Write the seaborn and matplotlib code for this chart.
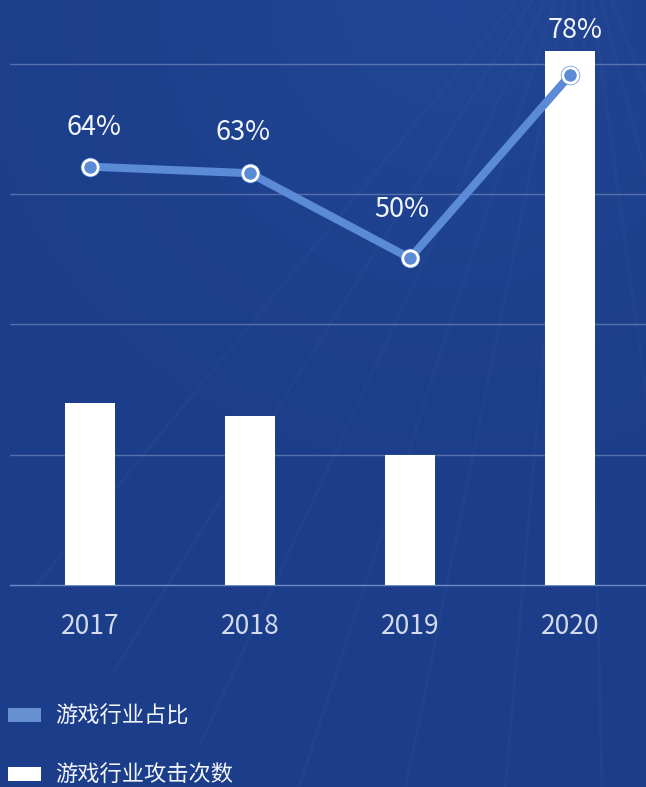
import numpy as np
import matplotlib
matplotlib.use("Agg")
import matplotlib.pyplot as plt
from matplotlib.patches import Patch
import pandas as pd
import seaborn as sns

# ---- data ----
years = ["2017", "2018", "2019", "2020"]
attack_counts = [1.4, 1.3, 1.0, 4.1]          # 游戏行业攻击次数 (relative units)
game_share = [64, 63, 50, 78]                 # 游戏行业占比 (%)
legend_labels = ["游戏行业占比", "游戏行业攻击次数"]

# label offsets (points) for the percentage annotations
label_dx = [3, -5, -6, 4]
label_dy = [28, 29, 35, 32]

# ---- style ----
BG = "#1c3e8a"
LINE = "#5b8ad6"
LEGEND_LINE = "#6690d0"
AXIS = "#6f8cc4"
TXT = "#f2f5fb"
TICK_TXT = "#d3dcec"

sns.set_theme(style="white")
plt.rcParams["font.family"] = ["Noto Sans CJK SC", "DejaVu Sans"]

W, H = 646, 787
fig = plt.figure(figsize=(W / 100, H / 100), dpi=100)
fig.patch.set_facecolor(BG)

# soft light backdrop with faint rays
bg = fig.add_axes([0, 0, 1, 1], zorder=-10)
bg.set_axis_off()
yy, xx = np.mgrid[0:1:200j, 0:1:200j]
glow = np.exp(-(((xx - 0.7) / 0.5) ** 2 + ((yy - 0.0) / 0.4) ** 2))
base = np.array(matplotlib.colors.to_rgb(BG))
light = np.array([0.15, 0.31, 0.63])
k = 0.4 * glow[..., None]
img = base[None, None, :] * (1 - k) + light[None, None, :] * k
bg.imshow(img, extent=[0, 1, 0, 1], origin="upper", aspect="auto")
bg.set_xlim(0, 1)
bg.set_ylim(0, 1)
for ang in np.linspace(225, 295, 10):
    r = np.radians(ang)
    x0, y0 = 0.9, 1.1
    bg.plot([x0, x0 + 1.2 * np.cos(r)], [y0, y0 + 1.2 * np.sin(r)],
            color="white", alpha=0.018, lw=2.5, solid_capstyle="butt")

# ---- main axes ----
left = 10 / W
bottom = (H - 585) / H
ax = fig.add_axes([left, bottom, 640 / W, 585 / H])
ax.set_facecolor("none")

df = pd.DataFrame({"year": years, "count": attack_counts, "share": game_share})
sns.barplot(data=df, x="year", y="count", color="white", saturation=1,
            width=0.31, ax=ax, zorder=3)
for p in ax.patches:
    p.set_edgecolor("none")
ax.set_xlim(-0.5, 3.5)
ax.set_ylim(0, 4.49)
ax.set_yticks([1, 2, 3, 4])
ax.set_yticklabels([])
ax.tick_params(axis="y", length=0)
ax.grid(axis="y", color="white", alpha=0.25, lw=1)
ax.set_axisbelow(True)
ax.set_xlabel("")
ax.set_ylabel("")
for s in ["top", "right", "left"]:
    ax.spines[s].set_visible(False)
ax.spines["bottom"].set_color(AXIS)
ax.spines["bottom"].set_linewidth(1)
ax.set_xticks(np.arange(len(years)))
ax.set_xticklabels(years, color=TICK_TXT, fontsize=19, fontweight="light")
ax.set_xticks(np.arange(len(years) + 1) - 0.5, minor=True)
ax.tick_params(axis="x", which="major", length=0, pad=20)
ax.tick_params(axis="x", which="minor", length=7, color=AXIS, width=1)

# ---- share line on secondary axis ----
ax2 = ax.twinx()
ax2.set_facecolor("none")
xpos = np.arange(len(years))
sns.lineplot(x=xpos, y=game_share, ax=ax2, color=LINE, lw=5.8,
             solid_capstyle="round", zorder=4)
# soft halo behind each point, then white ring marker
ax2.plot(xpos, game_share, ls="none", marker="o", markersize=14,
         markerfacecolor=LINE, markeredgecolor="none", zorder=5)
ax2.plot(xpos, game_share, ls="none", marker="o", markersize=11,
         markerfacecolor=LINE, markeredgecolor="white", markeredgewidth=2.0,
         zorder=6)
ax2.set_ylim(0, 89.5)
ax2.set_xlim(-0.5, 3.5)
ax2.set_yticks([])
ax2.set_ylabel("")
for s in ax2.spines.values():
    s.set_visible(False)
for xi, v, dx, dy in zip(xpos, game_share, label_dx, label_dy):
    ax2.annotate(f"{v}%", (xi, v), xytext=(dx, dy), textcoords="offset points",
                 ha="center", va="center", color=TXT, fontsize=19.5)

# ---- legend ----
handles = [Patch(facecolor=LEGEND_LINE, edgecolor="none"),
           Patch(facecolor="white", edgecolor="none")]
leg = fig.legend(handles, legend_labels, loc="upper left",
                 bbox_to_anchor=(8 / W, 1 - 705 / H), frameon=False,
                 fontsize=16, handlelength=1.5, handleheight=0.6,
                 handletextpad=0.6, labelspacing=1.6, borderpad=0,
                 borderaxespad=0)
for t in leg.get_texts():
    t.set_color(TXT)

fig.savefig("out.png", dpi=100, facecolor=fig.get_facecolor())
